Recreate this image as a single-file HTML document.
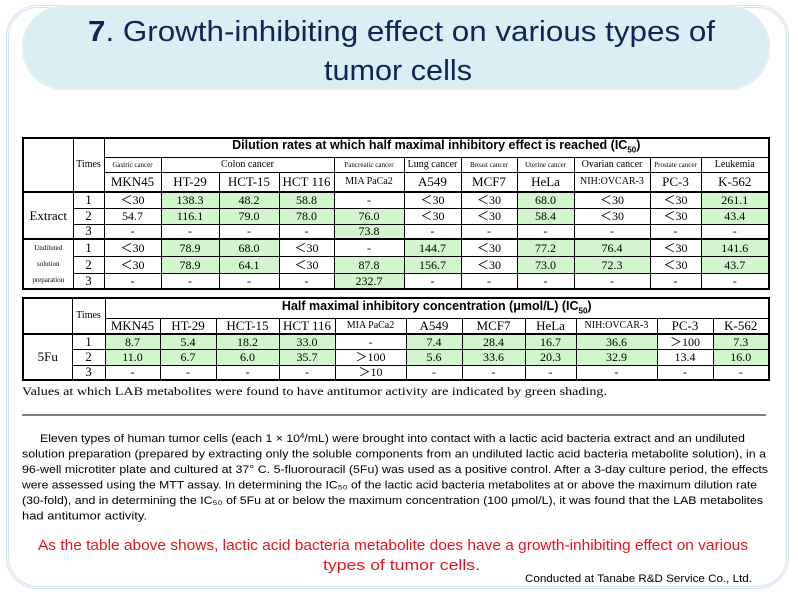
<!DOCTYPE html>
<html><head><meta charset="utf-8">
<style>
html,body{margin:0;padding:0;background:#fff;}
body{width:798px;height:603px;position:relative;overflow:hidden;}
.frame{position:absolute;left:6px;top:5px;width:783px;height:584px;border:3px double #d3dff0;border-radius:32px;box-sizing:border-box;}
.pill{position:absolute;left:22px;top:5px;width:748px;height:85px;background:#daeef3;border:2px solid #e4eef7;border-radius:42px;box-sizing:border-box;}
table{position:absolute;border-collapse:collapse;table-layout:fixed;font-family:"Liberation Serif",serif;font-size:12px;color:#000;}
td{border:1px solid #000;text-align:center;padding:0;overflow:hidden;white-space:nowrap;line-height:12px;}
.g{background:#d2f5cd;}
.tt{font-family:"Liberation Sans",sans-serif;font-weight:bold;font-size:12.5px;}
.sm{font-size:7px;}
.md{font-size:10px;}
.big{font-size:13px;}
.tk{border-bottom:2px solid #000;}
.tkt{border-top:2px solid #000;}
#t1{left:22px;top:137px;border:2px solid #000;}
#t2{left:22px;top:297px;border:2px solid #000;}
svg{position:absolute;left:0;top:0;}
</style></head><body>
<div class="frame"></div>
<div class="pill"></div>

<table id="t1">
<colgroup><col style="width:50px"><col style="width:31px"><col style="width:57px"><col style="width:58px"><col style="width:60px"><col style="width:55px"><col style="width:70px"><col style="width:57px"><col style="width:56px"><col style="width:57px"><col style="width:76px"><col style="width:51px"><col style="width:68px"></colgroup>
<tr style="height:19px"><td rowspan="3" class="tk"></td><td rowspan="3" class="tk md">Times</td><td colspan="11" class="tt">Dilution rates at which half maximal inhibitory effect is reached (IC<sub style="font-size:8px">50</sub>)</td></tr>
<tr style="height:15px"><td class="sm">Gastric cancer</td><td colspan="3" class="md">Colon cancer</td><td class="sm">Pancreatic cancer</td><td class="md">Lung cancer</td><td class="sm">Breast cancer</td><td class="sm">Uterine cancer</td><td class="md">Ovarian cancer</td><td class="sm">Prostate cancer</td><td class="md">Leukemia</td></tr>
<tr style="height:20px"><td class="tk big">MKN45</td><td class="tk big">HT-29</td><td class="tk big">HCT-15</td><td class="tk big">HCT 116</td><td class="tk md">MIA PaCa2</td><td class="tk big">A549</td><td class="tk big">MCF7</td><td class="tk big">HeLa</td><td class="tk md">NIH:OVCAR-3</td><td class="tk big">PC-3</td><td class="tk big">K-562</td></tr>
<tr style="height:16px"><td rowspan="3" class="big">Extract</td><td class="big">1</td><td>＜30</td><td class="g">138.3</td><td class="g">48.2</td><td class="g">58.8</td><td>-</td><td>＜30</td><td>＜30</td><td class="g">68.0</td><td>＜30</td><td>＜30</td><td class="g">261.1</td></tr>
<tr style="height:16px"><td class="big">2</td><td>54.7</td><td class="g">116.1</td><td class="g">79.0</td><td class="g">78.0</td><td class="g">76.0</td><td>＜30</td><td>＜30</td><td class="g">58.4</td><td>＜30</td><td>＜30</td><td class="g">43.4</td></tr>
<tr style="height:15px"><td class="big">3</td><td>-</td><td>-</td><td>-</td><td>-</td><td class="g">73.8</td><td>-</td><td>-</td><td>-</td><td>-</td><td>-</td><td>-</td></tr>
<tr style="height:17px"><td rowspan="3" class="tkt sm" style="line-height:16px">Undiluted<br>solution<br>preparation</td><td class="tkt big">1</td><td class="tkt">＜30</td><td class="tkt g">78.9</td><td class="tkt g">68.0</td><td class="tkt">＜30</td><td class="tkt">-</td><td class="tkt g">144.7</td><td class="tkt">＜30</td><td class="tkt g">77.2</td><td class="tkt g">76.4</td><td class="tkt">＜30</td><td class="tkt g">141.6</td></tr>
<tr style="height:16px"><td class="big">2</td><td>＜30</td><td class="g">78.9</td><td class="g">64.1</td><td>＜30</td><td class="g">87.8</td><td class="g">156.7</td><td>＜30</td><td class="g">73.0</td><td class="g">72.3</td><td>＜30</td><td class="g">43.7</td></tr>
<tr style="height:15px"><td class="big">3</td><td>-</td><td>-</td><td>-</td><td>-</td><td class="g">232.7</td><td>-</td><td>-</td><td>-</td><td>-</td><td>-</td><td>-</td></tr>
</table>

<table id="t2">
<colgroup><col style="width:49px"><col style="width:33px"><col style="width:55px"><col style="width:56px"><col style="width:63px"><col style="width:56px"><col style="width:71px"><col style="width:56px"><col style="width:63px"><col style="width:51px"><col style="width:81px"><col style="width:56px"><col style="width:56px"></colgroup>
<tr style="height:20px"><td rowspan="2" class="tk"></td><td rowspan="2" class="tk md">Times</td><td colspan="11" class="tt">Half maximal inhibitory concentration (μmol/L) (IC<sub style="font-size:8px">50</sub>)</td></tr>
<tr style="height:16px"><td class="tk big">MKN45</td><td class="tk big">HT-29</td><td class="tk big">HCT-15</td><td class="tk big">HCT 116</td><td class="tk md">MIA PaCa2</td><td class="tk big">A549</td><td class="tk big">MCF7</td><td class="tk big">HeLa</td><td class="tk md">NIH:OVCAR-3</td><td class="tk big">PC-3</td><td class="tk big">K-562</td></tr>
<tr style="height:15px"><td rowspan="3" class="big">5Fu</td><td class="big">1</td><td class="g">8.7</td><td class="g">5.4</td><td class="g">18.2</td><td class="g">33.0</td><td>-</td><td class="g">7.4</td><td class="g">28.4</td><td class="g">16.7</td><td class="g">36.6</td><td>＞100</td><td class="g">7.3</td></tr>
<tr style="height:16px"><td class="big">2</td><td class="g">11.0</td><td class="g">6.7</td><td class="g">6.0</td><td class="g">35.7</td><td>＞100</td><td class="g">5.6</td><td class="g">33.6</td><td class="g">20.3</td><td class="g">32.9</td><td>13.4</td><td class="g">16.0</td></tr>
<tr style="height:15px"><td class="big">3</td><td>-</td><td>-</td><td>-</td><td>-</td><td>＞10</td><td>-</td><td>-</td><td>-</td><td>-</td><td>-</td><td>-</td></tr>
</table>

<svg width="798" height="603" xmlns="http://www.w3.org/2000/svg">
<g font-family="Liberation Sans, sans-serif" fill="#0d2657" font-size="29">
<text x="88" y="41" textLength="627" lengthAdjust="spacingAndGlyphs"><tspan font-weight="bold">7</tspan>. Growth-inhibiting effect on various types of</text>
<text x="324" y="80" textLength="148" lengthAdjust="spacingAndGlyphs">tumor cells</text>
</g>
<text x="22" y="395" font-family="Liberation Serif, serif" font-size="12" textLength="585" lengthAdjust="spacingAndGlyphs">Values at which LAB metabolites were found to have antitumor activity are indicated by green shading.</text>
<line x1="22" y1="415" x2="766" y2="415" stroke="#000" stroke-width="1"/>
<g font-family="Liberation Sans, sans-serif" font-size="11" fill="#000">
<text x="40" y="442" textLength="705" lengthAdjust="spacingAndGlyphs">Eleven types of human tumor cells (each 1 × 10<tspan font-size="7" dy="-4">4</tspan><tspan dy="4">/mL) were brought into contact with a lactic acid bacteria extract and an undiluted</tspan></text>
<text x="22" y="457.5" textLength="744" lengthAdjust="spacingAndGlyphs">solution preparation (prepared by extracting only the soluble components from an undiluted lactic acid bacteria metabolite solution), in a</text>
<text x="22" y="473" textLength="746" lengthAdjust="spacingAndGlyphs">96-well microtiter plate and cultured at 37°  C. 5-fluorouracil (5Fu) was used as a positive control. After a 3-day culture period, the effects</text>
<text x="22" y="488.5" textLength="735" lengthAdjust="spacingAndGlyphs">were assessed using the MTT assay. In determining the IC₅₀ of the lactic acid bacteria metabolites at or above the maximum dilution rate</text>
<text x="22" y="504" textLength="741" lengthAdjust="spacingAndGlyphs">(30-fold), and in determining the IC₅₀ of 5Fu at or below the maximum concentration (100 μmol/L), it was found that the LAB metabolites</text>
<text x="22" y="519.5" textLength="125" lengthAdjust="spacingAndGlyphs">had antitumor activity.</text>
</g>
<g font-family="Liberation Sans, sans-serif" fill="#e8141c" font-size="15">
<text x="38" y="550" textLength="710" lengthAdjust="spacingAndGlyphs">As the table above shows, lactic acid bacteria metabolite does have a growth-inhibiting effect on various</text>
<text x="323" y="570" textLength="157" lengthAdjust="spacingAndGlyphs">types of tumor cells.</text>
</g>
<text x="525" y="582" font-family="Liberation Sans, sans-serif" font-size="11" textLength="227" lengthAdjust="spacingAndGlyphs">Conducted at Tanabe R&amp;D Service Co., Ltd.</text>
</svg>
</body></html>
